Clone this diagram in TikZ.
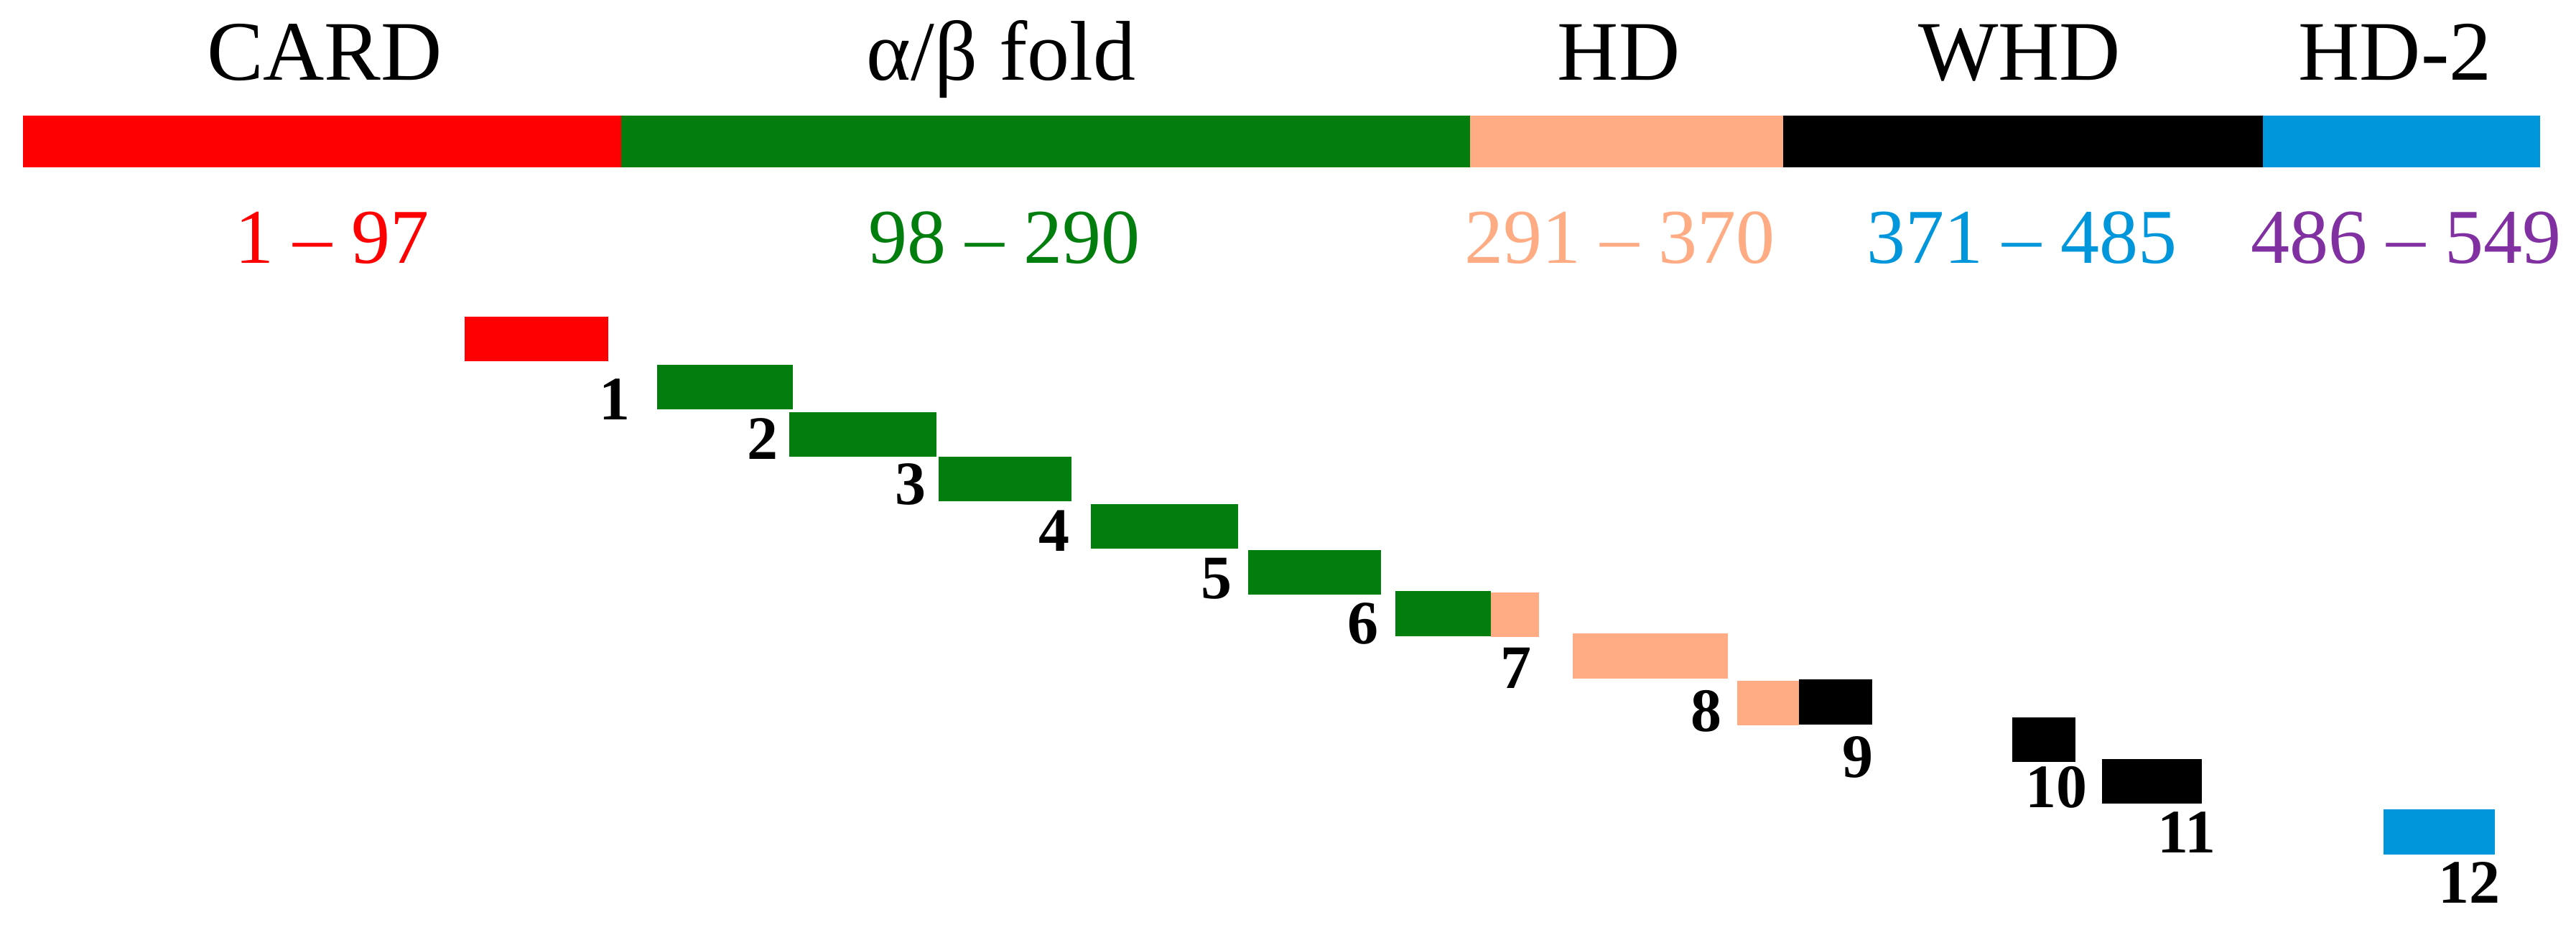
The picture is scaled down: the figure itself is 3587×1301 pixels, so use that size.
\documentclass[tikz,border=0pt]{standalone}
\usepackage{fontspec}
\setmainfont{Liberation Serif}
\definecolor{cred}{RGB}{255,0,0}
\definecolor{cgreen}{RGB}{2,126,15}
\definecolor{csalmon}{RGB}{255,172,132}
\definecolor{cblue}{RGB}{0,150,219}
\definecolor{cpurple}{RGB}{128,48,160}
\tikzset{
  headlabel/.style={anchor=base,inner sep=0pt,font=\fontsize{118}{130}\selectfont},
  rangelabel/.style={anchor=base,inner sep=0pt,font=\fontsize{108}{120}\selectfont},
  numlabel/.style={anchor=base,inner sep=0pt,font=\fontsize{86}{96}\selectfont\bfseries},
}
\begin{document}
\begin{tikzpicture}[x=1pt,y=-1pt]
\useasboundingbox[fill=white] (0,0) rectangle (3587,1301);
% domain bar
\fill[cred] (32,161) rectangle (865,233);
\fill[cgreen] (865,161) rectangle (2047,233);
\fill[csalmon] (2047,161) rectangle (2483,233);
\fill[black] (2483,161) rectangle (3151,233);
\fill[cblue] (3151,161) rectangle (3537,233);
% headings
\node[headlabel] (hcard) at (452,111) {CARD};
\node[headlabel] (hab) at (1394,111) {α/β fold};
\node[headlabel] (hhd) at (2254,111) {HD};
\node[headlabel] (hwhd) at (2812,111) {WHD};
\node[headlabel] (hhd2) at (3335,111) {HD-2};
% ranges
\node[rangelabel,text=cred] (r1) at (462,366) {1 – 97};
\node[rangelabel,text=cgreen] (r2) at (1398,366) {98 – 290};
\node[rangelabel,text=csalmon] (r3) at (2255,366) {291 – 370};
\node[rangelabel,text=cblue] (r4) at (2815,366) {371 – 485};
\node[rangelabel,text=cpurple] (r5) at (3350,366) {486 – 549};
% fragments
\fill[cred] (647,441) rectangle (847,503);
\fill[cgreen] (915,508) rectangle (1104,570);
\fill[cgreen] (1099,574) rectangle (1304,636);
\fill[cgreen] (1307,636) rectangle (1492,698);
\fill[cgreen] (1519,702) rectangle (1724,764);
\fill[cgreen] (1738,766) rectangle (1923,828);
\fill[cgreen] (1943,823) rectangle (2076,886);
\fill[csalmon] (2076,825) rectangle (2143,887);
\fill[csalmon] (2190,882) rectangle (2406,945);
\fill[csalmon] (2419,948) rectangle (2505,1010);
\fill[black] (2505,946) rectangle (2607,1009);
\fill[black] (2802,999) rectangle (2890,1061);
\fill[black] (2927,1057) rectangle (3066,1119);
\fill[cblue] (3319,1127) rectangle (3474,1190);
% fragment numbers
\node[numlabel] (n1) at (856,584) {1};
\node[numlabel] (n2) at (1062,639) {2};
\node[numlabel] (n3) at (1268,702) {3};
\node[numlabel] (n4) at (1468,767) {4};
\node[numlabel] (n5) at (1694,833) {5};
\node[numlabel] (n6) at (1898,896) {6};
\node[numlabel] (n7) at (2111,958) {7};
\node[numlabel] (n8) at (2376,1018) {8};
\node[numlabel] (n9) at (2587,1082) {9};
\node[numlabel] (n10) at (2863,1124) {10};
\node[numlabel] (n11) at (3045,1187) {11};
\node[numlabel] (n12) at (3438,1257) {12};
\end{tikzpicture}
\end{document}
